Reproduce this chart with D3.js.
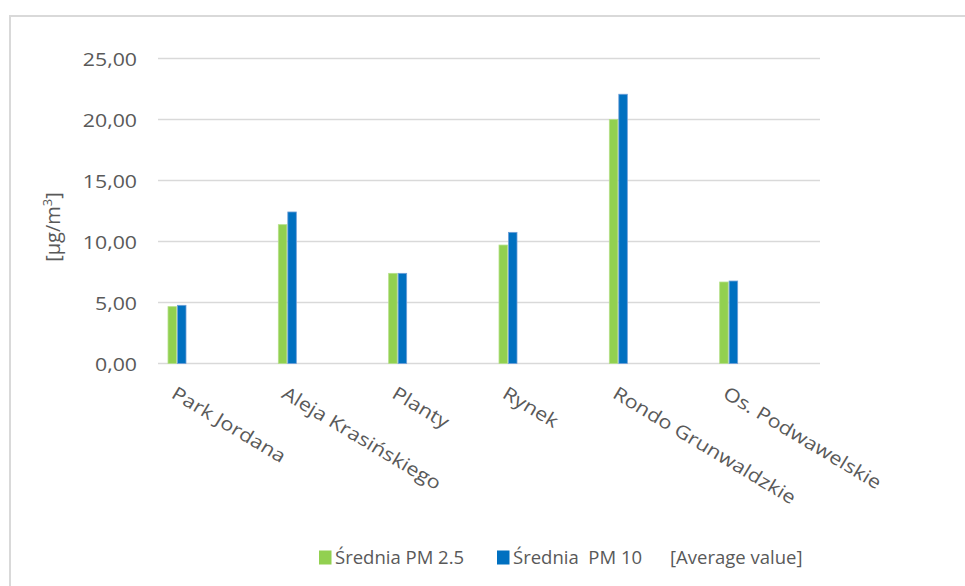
<!DOCTYPE html>
<html>
<head>
<meta charset="utf-8">
<script src="https://cdn.jsdelivr.net/npm/d3@7"></script>
<style>
  html, body { margin: 0; padding: 0; background: #fff; }
  svg { display: block; font-family: "Open Sans", sans-serif; }
  text { white-space: pre; }
</style>
</head>
<body>
<svg id="chart" width="965" height="586"></svg>
<script>
// Average particulate concentrations at Kraków measurement sites
const categories = ["Park Jordana", "Aleja Krasińskiego", "Planty", "Rynek", "Rondo Grunwaldzkie", "Os. Podwawelskie"];
const pm25 = [4.66, 11.38, 7.39, 9.71, 20.0, 6.68];
const pm10 = [4.77, 12.42, 7.39, 10.75, 22.07, 6.76];
const seriesNames = ["Średnia PM 2.5", "Średnia  PM 10"];
const seriesColors = ["#92D050", "#0070C0"];
const seriesStrokes = ["#b5e08a", "#6f9fd8"];
const yTicks = [0, 5, 10, 15, 20, 25];
const legendNote = "[Average value]";

const svg = d3.select("#chart");
const textColor = "#595959";
const gridColor = "#d9d9d9";
const fontSize = 18.5;

// widen text horizontally by factor k
function stretch(sel, k) {
  sel.each(function () {
    const w = this.getComputedTextLength();
    d3.select(this).attr("textLength", w * k).attr("lengthAdjust", "spacingAndGlyphs");
  });
}

// Outer frame
svg.append("path")
  .attr("d", "M10,600 L10,16 L980,16")
  .attr("fill", "none")
  .attr("stroke", gridColor)
  .attr("stroke-width", 2);

const plot = { left: 158, right: 820, top: 58.5, bottom: 363.5 };

const y = d3.scaleLinear().domain([0, 25]).range([plot.bottom, plot.top]);
const x = d3.scaleBand().domain(categories).range([plot.left, plot.right]).padding(0);
const inner = d3.scaleBand().domain(seriesNames).range([10, 28]).paddingInner(0.1);

// Gridlines
svg.append("g")
  .selectAll("line")
  .data(yTicks)
  .join("line")
  .attr("x1", plot.left).attr("x2", plot.right)
  .attr("y1", d => y(d)).attr("y2", d => y(d))
  .attr("stroke", gridColor)
  .attr("stroke-width", 1.5);

// Y axis labels
const yAxis = d3.axisLeft(y)
  .tickValues(yTicks)
  .tickSize(0)
  .tickPadding(0)
  .tickFormat(d => d3.format(".2f")(d).replace(".", ","));
const yg = svg.append("g").attr("transform", "translate(137,0)").call(yAxis);
yg.select(".domain").remove();
yg.selectAll("text")
  .attr("fill", textColor)
  .attr("font-size", fontSize)
  .attr("font-family", "Open Sans, sans-serif")
  .attr("dy", "0.36em")
  .call(stretch, 1.15);

// Y axis title
const yt = svg.append("text")
  .attr("transform", "translate(60,227) rotate(-90)")
  .attr("text-anchor", "middle")
  .attr("fill", textColor)
  .attr("font-size", 20);
yt.append("tspan").text("[μg/m");
yt.append("tspan").attr("font-size", 13).attr("dy", -8).text("3");
yt.append("tspan").attr("dy", 8).text("]");

// Bars
const rows = categories.map((c, i) => ({ cat: c, vals: [pm25[i], pm10[i]] }));
const groups = svg.append("g")
  .selectAll("g")
  .data(rows)
  .join("g")
  .attr("transform", d => `translate(${x(d.cat)},0)`);
groups.selectAll("rect")
  .data(d => d.vals.map((v, k) => ({ v, k })))
  .join("rect")
  .attr("x", d => inner(seriesNames[d.k]))
  .attr("width", inner.bandwidth())
  .attr("y", d => y(d.v))
  .attr("height", d => y(0) - y(d.v))
  .attr("fill", d => seriesColors[d.k])
  .attr("stroke", d => seriesStrokes[d.k])
  .attr("stroke-width", 0.8);

// Category labels, slanted
svg.append("g")
  .selectAll("text")
  .data(categories)
  .join("text")
  .attr("transform", d => `translate(${x(d) + x.bandwidth() / 2 - 43},397) rotate(31)`)
  .attr("text-anchor", "start")
  .attr("fill", textColor)
  .attr("font-size", fontSize)
  .text(d => d)
  .call(stretch, 1.17);

// Legend
const legend = svg.append("g");
const legendX = [319, 497];
seriesNames.forEach((name, i) => {
  legend.append("rect")
    .attr("x", legendX[i]).attr("y", 550.5)
    .attr("width", 12.5).attr("height", 14)
    .attr("fill", seriesColors[i]);
  legend.append("text")
    .attr("x", legendX[i] + 16).attr("y", 564)
    .attr("fill", textColor)
    .attr("font-size", fontSize)
    .text(name);
});
legend.append("text")
  .attr("x", 670).attr("y", 564)
  .attr("fill", textColor)
  .attr("font-size", fontSize)
  .text(legendNote);
</script>
</body>
</html>
